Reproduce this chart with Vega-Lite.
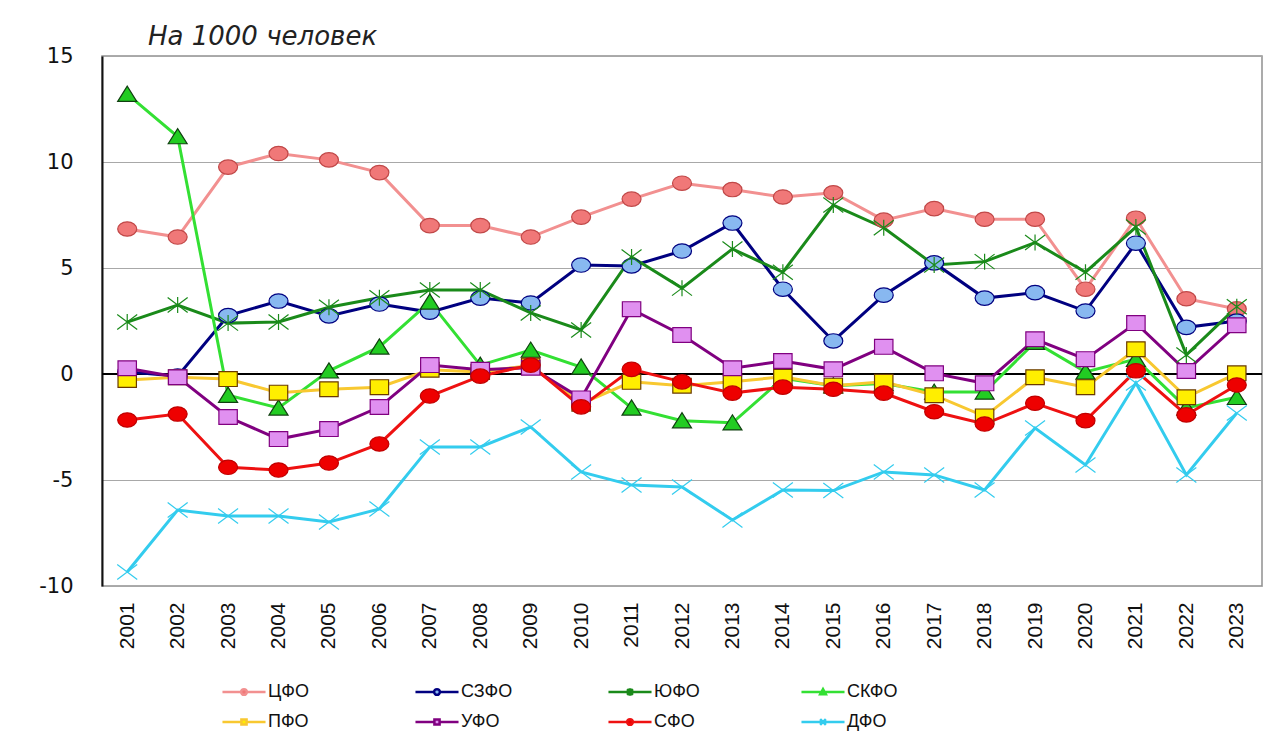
{
  "$schema": "https://vega.github.io/schema/vega-lite/v6.json",
  "width": 1160,
  "height": 530,
  "autosize": {"type": "none"},
  "padding": {"left": 102, "top": 56, "right": 21, "bottom": 165},
  "background": "white",
  "title": {
    "text": "На 1000 человек",
    "anchor": "start",
    "frame": "group",
    "dx": 46,
    "offset": -5,
    "font": "DejaVu Sans",
    "fontSize": 26,
    "fontStyle": "italic",
    "fontWeight": "normal",
    "color": "#222222"
  },
  "config": {
    "view": {"stroke": "#909090", "strokeWidth": 1.5},
    "font": "Liberation Sans"
  },
  "data": {
    "values": [
      {"year": "2001", "region": "ЦФО", "value": 6.84},
      {"year": "2002", "region": "ЦФО", "value": 6.46},
      {"year": "2003", "region": "ЦФО", "value": 9.76},
      {"year": "2004", "region": "ЦФО", "value": 10.4},
      {"year": "2005", "region": "ЦФО", "value": 10.1},
      {"year": "2006", "region": "ЦФО", "value": 9.5},
      {"year": "2007", "region": "ЦФО", "value": 7.0},
      {"year": "2008", "region": "ЦФО", "value": 7.0},
      {"year": "2009", "region": "ЦФО", "value": 6.46},
      {"year": "2010", "region": "ЦФО", "value": 7.4},
      {"year": "2011", "region": "ЦФО", "value": 8.25},
      {"year": "2012", "region": "ЦФО", "value": 9.0},
      {"year": "2013", "region": "ЦФО", "value": 8.7},
      {"year": "2014", "region": "ЦФО", "value": 8.35},
      {"year": "2015", "region": "ЦФО", "value": 8.55},
      {"year": "2016", "region": "ЦФО", "value": 7.26},
      {"year": "2017", "region": "ЦФО", "value": 7.8},
      {"year": "2018", "region": "ЦФО", "value": 7.3},
      {"year": "2019", "region": "ЦФО", "value": 7.3},
      {"year": "2020", "region": "ЦФО", "value": 4.0},
      {"year": "2021", "region": "ЦФО", "value": 7.35},
      {"year": "2022", "region": "ЦФО", "value": 3.55},
      {"year": "2023", "region": "ЦФО", "value": 3.07},

      {"year": "2001", "region": "СЗФО", "value": 0.1},
      {"year": "2002", "region": "СЗФО", "value": -0.1},
      {"year": "2003", "region": "СЗФО", "value": 2.76},
      {"year": "2004", "region": "СЗФО", "value": 3.44},
      {"year": "2005", "region": "СЗФО", "value": 2.74},
      {"year": "2006", "region": "СЗФО", "value": 3.3},
      {"year": "2007", "region": "СЗФО", "value": 2.92},
      {"year": "2008", "region": "СЗФО", "value": 3.58},
      {"year": "2009", "region": "СЗФО", "value": 3.35},
      {"year": "2010", "region": "СЗФО", "value": 5.14},
      {"year": "2011", "region": "СЗФО", "value": 5.1},
      {"year": "2012", "region": "СЗФО", "value": 5.8},
      {"year": "2013", "region": "СЗФО", "value": 7.12},
      {"year": "2014", "region": "СЗФО", "value": 4.0},
      {"year": "2015", "region": "СЗФО", "value": 1.56},
      {"year": "2016", "region": "СЗФО", "value": 3.72},
      {"year": "2017", "region": "СЗФО", "value": 5.24},
      {"year": "2018", "region": "СЗФО", "value": 3.58},
      {"year": "2019", "region": "СЗФО", "value": 3.84},
      {"year": "2020", "region": "СЗФО", "value": 2.97},
      {"year": "2021", "region": "СЗФО", "value": 6.17},
      {"year": "2022", "region": "СЗФО", "value": 2.2},
      {"year": "2023", "region": "СЗФО", "value": 2.5},

      {"year": "2001", "region": "ЮФО", "value": 2.45},
      {"year": "2002", "region": "ЮФО", "value": 3.25},
      {"year": "2003", "region": "ЮФО", "value": 2.4},
      {"year": "2004", "region": "ЮФО", "value": 2.45},
      {"year": "2005", "region": "ЮФО", "value": 3.15},
      {"year": "2006", "region": "ЮФО", "value": 3.6},
      {"year": "2007", "region": "ЮФО", "value": 3.96},
      {"year": "2008", "region": "ЮФО", "value": 3.96},
      {"year": "2009", "region": "ЮФО", "value": 2.88},
      {"year": "2010", "region": "ЮФО", "value": 2.08},
      {"year": "2011", "region": "ЮФО", "value": 5.52},
      {"year": "2012", "region": "ЮФО", "value": 4.05},
      {"year": "2013", "region": "ЮФО", "value": 5.9},
      {"year": "2014", "region": "ЮФО", "value": 4.8},
      {"year": "2015", "region": "ЮФО", "value": 7.97},
      {"year": "2016", "region": "ЮФО", "value": 6.9},
      {"year": "2017", "region": "ЮФО", "value": 5.14},
      {"year": "2018", "region": "ЮФО", "value": 5.3},
      {"year": "2019", "region": "ЮФО", "value": 6.2},
      {"year": "2020", "region": "ЮФО", "value": 4.8},
      {"year": "2021", "region": "ЮФО", "value": 6.93},
      {"year": "2022", "region": "ЮФО", "value": 0.9},
      {"year": "2023", "region": "ЮФО", "value": 3.17},

      {"year": "2001", "region": "СКФО", "value": 13.2},
      {"year": "2002", "region": "СКФО", "value": 11.2},
      {"year": "2003", "region": "СКФО", "value": -1.0},
      {"year": "2004", "region": "СКФО", "value": -1.6},
      {"year": "2005", "region": "СКФО", "value": 0.15},
      {"year": "2006", "region": "СКФО", "value": 1.28},
      {"year": "2007", "region": "СКФО", "value": 3.4},
      {"year": "2008", "region": "СКФО", "value": 0.42},
      {"year": "2009", "region": "СКФО", "value": 1.13},
      {"year": "2010", "region": "СКФО", "value": 0.33},
      {"year": "2011", "region": "СКФО", "value": -1.6},
      {"year": "2012", "region": "СКФО", "value": -2.2},
      {"year": "2013", "region": "СКФО", "value": -2.3},
      {"year": "2014", "region": "СКФО", "value": -0.2},
      {"year": "2015", "region": "СКФО", "value": -0.55},
      {"year": "2016", "region": "СКФО", "value": -0.45},
      {"year": "2017", "region": "СКФО", "value": -0.85},
      {"year": "2018", "region": "СКФО", "value": -0.85},
      {"year": "2019", "region": "СКФО", "value": 1.5},
      {"year": "2020", "region": "СКФО", "value": 0.1},
      {"year": "2021", "region": "СКФО", "value": 0.7},
      {"year": "2022", "region": "СКФО", "value": -1.6},
      {"year": "2023", "region": "СКФО", "value": -1.1},

      {"year": "2001", "region": "ПФО", "value": -0.28},
      {"year": "2002", "region": "ПФО", "value": -0.15},
      {"year": "2003", "region": "ПФО", "value": -0.24},
      {"year": "2004", "region": "ПФО", "value": -0.88},
      {"year": "2005", "region": "ПФО", "value": -0.72},
      {"year": "2006", "region": "ПФО", "value": -0.62},
      {"year": "2007", "region": "ПФО", "value": 0.2},
      {"year": "2008", "region": "ПФО", "value": 0.1},
      {"year": "2009", "region": "ПФО", "value": 0.4},
      {"year": "2010", "region": "ПФО", "value": -1.4},
      {"year": "2011", "region": "ПФО", "value": -0.37},
      {"year": "2012", "region": "ПФО", "value": -0.55},
      {"year": "2013", "region": "ПФО", "value": -0.37},
      {"year": "2014", "region": "ПФО", "value": -0.13},
      {"year": "2015", "region": "ПФО", "value": -0.55},
      {"year": "2016", "region": "ПФО", "value": -0.37},
      {"year": "2017", "region": "ПФО", "value": -1.0},
      {"year": "2018", "region": "ПФО", "value": -2.0},
      {"year": "2019", "region": "ПФО", "value": -0.15},
      {"year": "2020", "region": "ПФО", "value": -0.62},
      {"year": "2021", "region": "ПФО", "value": 1.17},
      {"year": "2022", "region": "ПФО", "value": -1.1},
      {"year": "2023", "region": "ПФО", "value": 0.03},

      {"year": "2001", "region": "УФО", "value": 0.27},
      {"year": "2002", "region": "УФО", "value": -0.15},
      {"year": "2003", "region": "УФО", "value": -2.03},
      {"year": "2004", "region": "УФО", "value": -3.07},
      {"year": "2005", "region": "УФО", "value": -2.6},
      {"year": "2006", "region": "УФО", "value": -1.56},
      {"year": "2007", "region": "УФО", "value": 0.42},
      {"year": "2008", "region": "УФО", "value": 0.2},
      {"year": "2009", "region": "УФО", "value": 0.3},
      {"year": "2010", "region": "УФО", "value": -1.15},
      {"year": "2011", "region": "УФО", "value": 3.06},
      {"year": "2012", "region": "УФО", "value": 1.84},
      {"year": "2013", "region": "УФО", "value": 0.27},
      {"year": "2014", "region": "УФО", "value": 0.61},
      {"year": "2015", "region": "УФО", "value": 0.22},
      {"year": "2016", "region": "УФО", "value": 1.28},
      {"year": "2017", "region": "УФО", "value": 0.03},
      {"year": "2018", "region": "УФО", "value": -0.44},
      {"year": "2019", "region": "УФО", "value": 1.64},
      {"year": "2020", "region": "УФО", "value": 0.7},
      {"year": "2021", "region": "УФО", "value": 2.4},
      {"year": "2022", "region": "УФО", "value": 0.14},
      {"year": "2023", "region": "УФО", "value": 2.3},

      {"year": "2001", "region": "СФО", "value": -2.17},
      {"year": "2002", "region": "СФО", "value": -1.89},
      {"year": "2003", "region": "СФО", "value": -4.4},
      {"year": "2004", "region": "СФО", "value": -4.53},
      {"year": "2005", "region": "СФО", "value": -4.2},
      {"year": "2006", "region": "СФО", "value": -3.3},
      {"year": "2007", "region": "СФО", "value": -1.04},
      {"year": "2008", "region": "СФО", "value": -0.1},
      {"year": "2009", "region": "СФО", "value": 0.42},
      {"year": "2010", "region": "СФО", "value": -1.55},
      {"year": "2011", "region": "СФО", "value": 0.22},
      {"year": "2012", "region": "СФО", "value": -0.37},
      {"year": "2013", "region": "СФО", "value": -0.9},
      {"year": "2014", "region": "СФО", "value": -0.62},
      {"year": "2015", "region": "СФО", "value": -0.72},
      {"year": "2016", "region": "СФО", "value": -0.9},
      {"year": "2017", "region": "СФО", "value": -1.78},
      {"year": "2018", "region": "СФО", "value": -2.36},
      {"year": "2019", "region": "СФО", "value": -1.38},
      {"year": "2020", "region": "СФО", "value": -2.2},
      {"year": "2021", "region": "СФО", "value": 0.15},
      {"year": "2022", "region": "СФО", "value": -1.93},
      {"year": "2023", "region": "СФО", "value": -0.52},

      {"year": "2001", "region": "ДФО", "value": -9.34},
      {"year": "2002", "region": "ДФО", "value": -6.42},
      {"year": "2003", "region": "ДФО", "value": -6.7},
      {"year": "2004", "region": "ДФО", "value": -6.7},
      {"year": "2005", "region": "ДФО", "value": -6.98},
      {"year": "2006", "region": "ДФО", "value": -6.37},
      {"year": "2007", "region": "ДФО", "value": -3.44},
      {"year": "2008", "region": "ДФО", "value": -3.44},
      {"year": "2009", "region": "ДФО", "value": -2.5},
      {"year": "2010", "region": "ДФО", "value": -4.62},
      {"year": "2011", "region": "ДФО", "value": -5.24},
      {"year": "2012", "region": "ДФО", "value": -5.33},
      {"year": "2013", "region": "ДФО", "value": -6.89},
      {"year": "2014", "region": "ДФО", "value": -5.47},
      {"year": "2015", "region": "ДФО", "value": -5.5},
      {"year": "2016", "region": "ДФО", "value": -4.62},
      {"year": "2017", "region": "ДФО", "value": -4.76},
      {"year": "2018", "region": "ДФО", "value": -5.47},
      {"year": "2019", "region": "ДФО", "value": -2.55},
      {"year": "2020", "region": "ДФО", "value": -4.29},
      {"year": "2021", "region": "ДФО", "value": -0.42},
      {"year": "2022", "region": "ДФО", "value": -4.76},
      {"year": "2023", "region": "ДФО", "value": -1.84}
    ]
  },
  "encoding": {
    "x": {
      "field": "year",
      "type": "ordinal",
      "axis": {
        "title": null,
        "labelAngle": -90,
        "labelFont": "Liberation Sans",
        "labelFontSize": 21,
        "labelColor": "#111111",
        "labelPadding": 16,
        "ticks": false,
        "domain": false,
        "grid": false
      }
    },
    "y": {
      "field": "value",
      "type": "quantitative",
      "scale": {"domain": [-10, 15], "nice": false, "zero": false},
      "axis": {
        "title": null,
        "values": [-10, -5, 0, 5, 10, 15],
        "labelExpr": "'' + datum.value",
        "labelFont": "DejaVu Sans",
        "labelFontSize": 21,
        "labelColor": "#111111",
        "labelPadding": 29,
        "ticks": false,
        "domainColor": "#111111",
        "domainWidth": 2,
        "gridColor": "#a8a8a8",
        "gridWidth": 1.2
      }
    }
  },
  "layer": [
    {
      "mark": {"type": "rule", "color": "#000000", "strokeWidth": 1.5},
      "encoding": {"x": null, "y": {"datum": 0}}
    },
    {
      "mark": {"type": "line"},
      "encoding": {
        "strokeWidth": {
          "field": "region",
          "type": "nominal",
          "scale": {
            "domain": ["ЦФО", "СЗФО", "ЮФО", "СКФО", "ПФО", "УФО", "СФО", "ДФО"],
            "range": [3, 3, 3.5, 3.5, 3.5, 3, 3, 4]
          },
          "legend": null
        },
        "stroke": {
          "field": "region",
          "type": "nominal",
          "sort": ["ЦФО", "СЗФО", "ЮФО", "СКФО", "ПФО", "УФО", "СФО", "ДФО"],
          "scale": {
            "domain": ["ЦФО", "СЗФО", "ЮФО", "СКФО", "ПФО", "УФО", "СФО", "ДФО"],
            "range": ["#f29090", "#000080", "#1a8a1a", "#33e033", "#f8c830", "#800080", "#ee1111", "#33ccee"]
          },
          "legend": {
            "orient": "none",
            "legendX": 126,
            "legendY": 620,
            "columns": 4,
            "direction": "horizontal",
            "title": null,
            "gridAlign": "all",
            "columnPadding": 90,
            "rowPadding": 5,
            "symbolSize": 824,
            "symbolStrokeWidth": 3,
            "labelFont": "Liberation Sans",
            "labelFontSize": 18,
            "labelColor": "#111111",
            "labelOffset": 8,
            "encode": {
              "symbols": {
                "update": {
                  "shape": {
                    "signal": "datum.value === 'ЮФО' ? 'M-1.5,0H1.5M0,-0.26V0.26M-0.2,-0.2L0.2,0.2M-0.2,0.2L0.2,-0.2' : datum.value === 'ДФО' ? 'M-1.5,0H1.5M-0.2,-0.2L0.2,0.2M-0.2,0.2L0.2,-0.2' : datum.value === 'СКФО' ? 'M-1.5,0H1.5M-0.2,0.16L0,-0.2L0.2,0.16Z' : (datum.value === 'ПФО' || datum.value === 'УФО') ? 'M-1.5,0H-0.18M0.18,0H1.5M-0.18,-0.18H0.18V0.18H-0.18Z' : 'M-1.5,0H-0.2M0.2,0H1.5M0.2,0A0.2,0.2 0 1 1 -0.2,0A0.2,0.2 0 1 1 0.2,0Z'"
                  },
                  "fill": {
                    "signal": "datum.value === 'ЦФО' ? '#f07878' : datum.value === 'СЗФО' ? '#88b8f0' : datum.value === 'СКФО' ? '#22cc22' : datum.value === 'ПФО' ? '#ffee00' : datum.value === 'УФО' ? '#e090f0' : datum.value === 'СФО' ? '#ee0000' : 'transparent'"
                  },
                  "strokeWidth": {"value": 2.5}
                }
              }
            }
          }
        }
      }
    },
    {
      "mark": {"type": "point", "filled": true, "size": 400, "strokeWidth": 1.2, "opacity": 1},
      "encoding": {
        "shape": {
          "field": "region",
          "type": "nominal",
          "scale": {
            "domain": ["ЦФО", "СЗФО", "ЮФО", "СКФО", "ПФО", "УФО", "СФО", "ДФО"],
            "range": [
              "M0.95,0A0.95,0.72 0 1 1 -0.95,0A0.95,0.72 0 1 1 0.95,0Z",
              "M0.95,0A0.95,0.72 0 1 1 -0.95,0A0.95,0.72 0 1 1 0.95,0Z",
              "M0,-0.8V0.8M-1,-0.75L1,0.75M-1,0.75L1,-0.75",
              "M-0.95,0.72L0,-0.8L0.95,0.72Z",
              "M-0.92,-0.74H0.92V0.74H-0.92Z",
              "M-0.92,-0.74H0.92V0.74H-0.92Z",
              "M0.95,0A0.95,0.72 0 1 1 -0.95,0A0.95,0.72 0 1 1 0.95,0Z",
              "M-1,-0.75L1,0.75M-1,0.75L1,-0.75"
            ]
          },
          "legend": null
        },
        "fill": {
          "field": "region",
          "type": "nominal",
          "scale": {
            "domain": ["ЦФО", "СЗФО", "ЮФО", "СКФО", "ПФО", "УФО", "СФО", "ДФО"],
            "range": ["#f07878", "#88b8f0", "#1a8a1a", "#22cc22", "#ffee00", "#e090f0", "#ee0000", "#33ccee"]
          },
          "legend": null
        },
        "stroke": {
          "field": "region",
          "type": "nominal",
          "scale": {
            "domain": ["ЦФО", "СЗФО", "ЮФО", "СКФО", "ПФО", "УФО", "СФО", "ДФО"],
            "range": ["#c04848", "#000080", "#1a8a1a", "#104010", "#6a3a00", "#800080", "#c00000", "#33ccee"]
          },
          "legend": null
        }
      }
    }
  ],
  "resolve": {"scale": {"stroke": "independent"}}
}
